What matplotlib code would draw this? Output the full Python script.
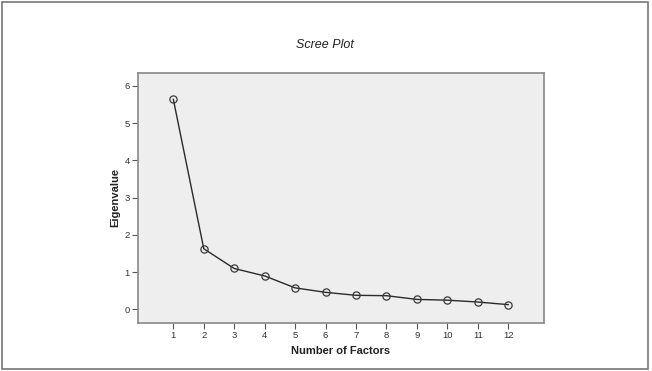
import matplotlib
matplotlib.use("Agg")
import matplotlib.pyplot as plt
from matplotlib.patches import Rectangle

factors = [1, 2, 3, 4, 5, 6, 7, 8, 9, 10, 11, 12]
eigenvalues = [5.64, 1.63, 1.10, 0.90, 0.58, 0.46, 0.38, 0.37, 0.27, 0.25, 0.20, 0.13]
yticks = [0, 1, 2, 3, 4, 5, 6]

plt.rcParams['font.family'] = ['Liberation Sans', 'DejaVu Sans']

fig = plt.figure(figsize=(6.52, 3.71), dpi=100)
fig.patch.set_facecolor('white')
fig.add_artist(Rectangle((0.003, 0.005), 0.991, 0.99, transform=fig.transFigure,
                         fill=False, edgecolor='#777777', linewidth=1.2))

ax = fig.add_axes([0.2117, 0.1307, 0.6219, 0.6717])
ax.set_facecolor('#eeeeee')
ax.plot(factors, eigenvalues, color='#2a2a2a', linewidth=1.0, marker='o',
        markersize=5.2, markerfacecolor='none', markeredgecolor='#3a3a3a',
        markeredgewidth=0.9)
ax.set_xlim(-0.16, 13.16)
ax.set_ylim(-0.35, 6.34)
ax.set_xticks(factors)
ax.set_yticks(yticks)
ax.tick_params(direction='out', length=4, width=0.8, color='#555555',
               labelsize=6.8, labelcolor='#333333', pad=2)
for s in ax.spines.values():
    s.set_color('#888888')
    s.set_linewidth(1.2)

ax.set_xlabel('Number of Factors', fontsize=8, fontweight='bold', color='#222222')
ax.set_ylabel('Eigenvalue', fontsize=8, fontweight='bold', color='#222222')
ax.xaxis.set_label_coords(0.5, -0.114)
ax.yaxis.set_label_coords(-0.057, 0.5)
ax.xaxis.label.set_va('center')
ax.yaxis.label.set_va('center')
fig.text(0.4985, 0.879, 'Scree Plot', ha='center', va='center', fontsize=9,
         style='italic', color='#222222')

fig.savefig('out.png', dpi=100)
